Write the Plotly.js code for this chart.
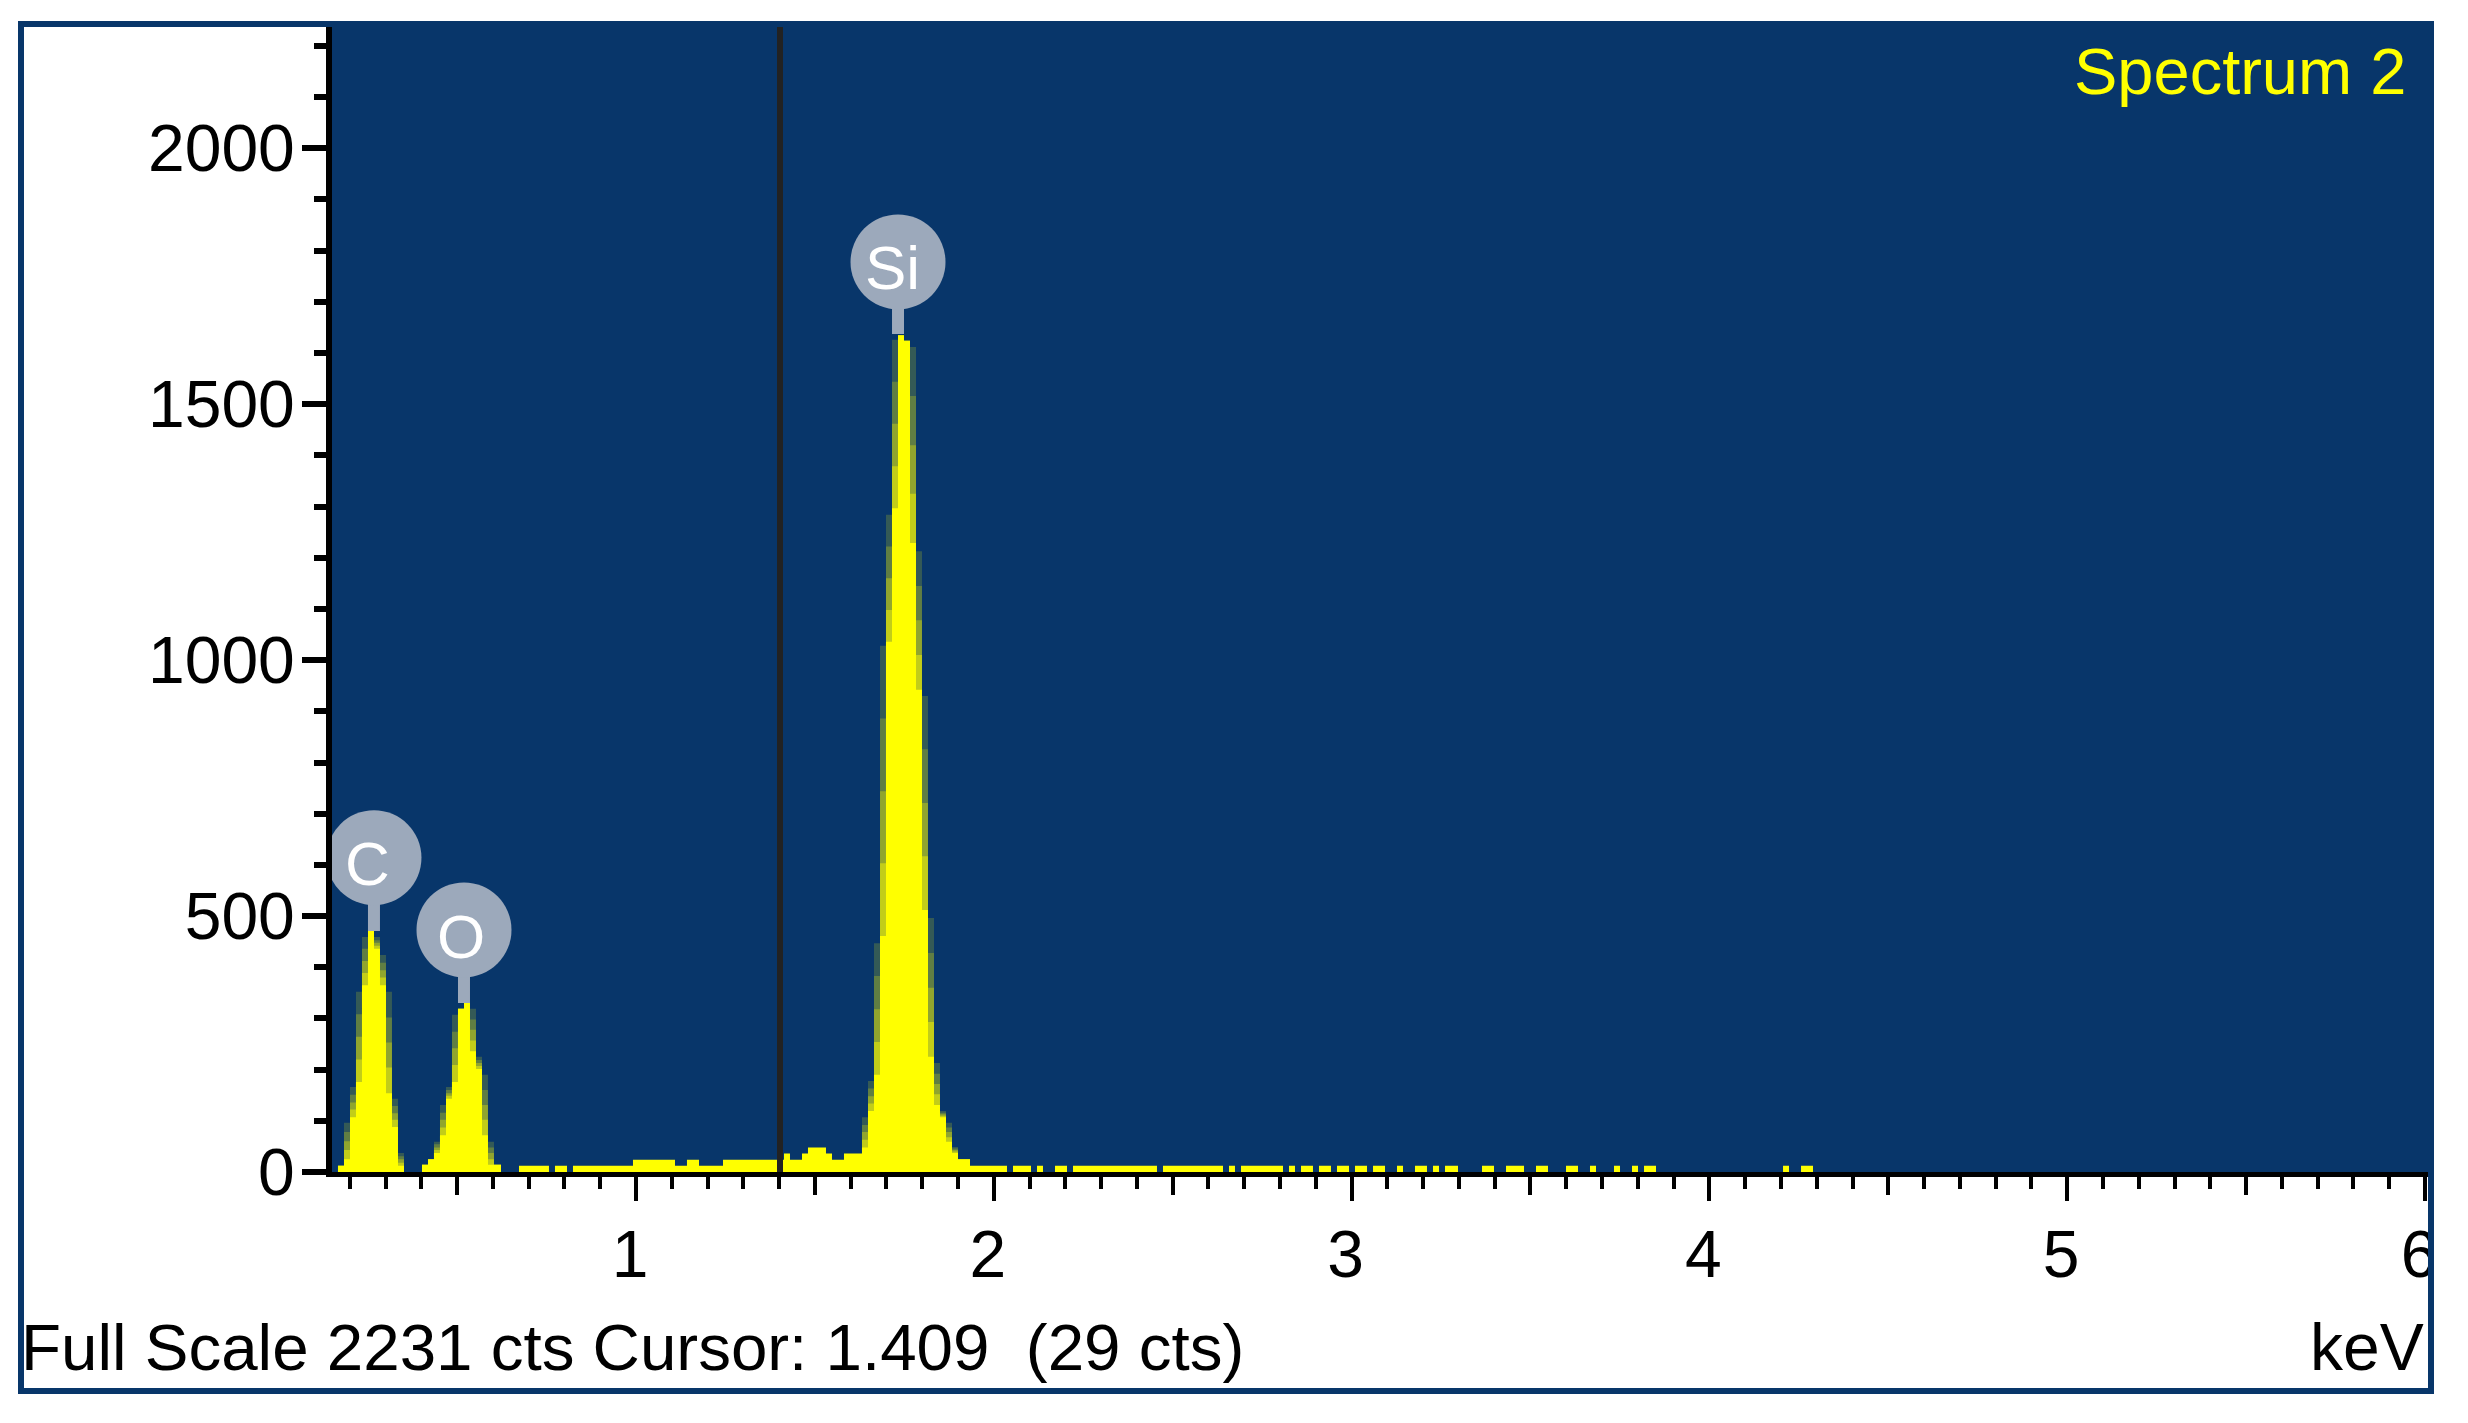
<!DOCTYPE html>
<html>
<head>
<meta charset="utf-8">
<script src="https://cdn.plot.ly/plotly-3.0.1.min.js"></script>
<style>html,body{margin:0;padding:0;background:#fff;}</style>
</head>
<body>
<div id="chart"></div>
<script>
// Spectrum: start energy of each step (keV) and counts held until the next step
const stepKeV = [0.1671,0.1839,0.2007,0.2174,0.2342,0.2510,0.2677,0.2845,0.3013,0.3180,0.3348,0.3516,
  0.4019,0.4187,0.4354,0.4522,0.4690,0.4857,0.5025,0.5193,0.5360,0.5528,0.5696,0.5863,0.6227,
  0.6730,0.7568,0.7736,0.8072,0.8239,0.9916,1.1090,1.1425,1.1761,1.2432,1.4136,1.4304,1.4640,1.4807,1.5310,1.5478,1.5813,
  1.6316,1.6484,1.6652,1.6820,1.6987,1.7155,1.7323,1.7490,1.7658,1.7826,1.7993,1.8161,1.8329,1.8496,1.8664,1.8832,1.9000,1.9335,
  2.0369,2.0537,2.1040,2.1208,2.1375,2.1711,2.2046,2.2214,2.4561,2.4729,2.6406,2.6574,2.6741,2.6909,2.8083,2.8251,2.8418,2.8586,
  2.8921,2.9089,2.9424,2.9592,2.9928,3.0095,3.0431,3.0599,3.0934,3.1269,3.1437,3.1772,3.2107,3.2275,3.2443,3.2611,3.2974,3.3645,
  3.3980,3.4316,3.4819,3.5154,3.5489,3.5993,3.6328,3.6663,3.6831,3.7334,3.7502,3.7837,3.8005,3.8173,3.8508,4.2058,4.2225,4.2561,4.2896];
const stepCounts = [12,25,107,176,365,471,436,365,154,88,12,0,
  14,25,37,72,143,176,319,330,236,201,72,14,0,
  12,0,12,0,12,24,12,24,12,24,36,24,36,48,36,24,36,
  48,119,190,461,1036,1297,1635,1624,1229,942,512,225,131,107,59,37,25,12,
  0,12,0,12,0,12,0,12,0,12,0,12,0,12,0,12,0,12,
  0,12,0,12,0,12,0,12,0,12,0,12,0,12,0,12,0,12,
  0,12,0,12,0,12,0,12,0,12,0,12,0,12,0,12,0,12,0];

// Soft shoulders of the three peaks, from the faint outer edge inwards
const shoulderKeV = [0.1671,0.1839,0.2007,0.2174,0.2342,0.2510,0.2677,0.2845,0.3013,0.3180,0.3348,0.3516,
  0.4019,0.4187,0.4354,0.4522,0.4690,0.4857,0.5025,0.5193,0.5360,0.5528,0.5696,0.5863,0.6031,0.6227,
  1.6316,1.6484,1.6652,1.6820,1.6987,1.7155,1.7323,1.7490,1.7658,1.7826,1.7993,1.8161,1.8329,1.8496,1.8664,1.8832,1.9000,1.9335];
const shoulderTop = [12,96,166,352,459,471,459,424,352,143,37,0,
  14,25,59,131,166,307,319,330,319,225,190,59,14,0,
  107,178,447,1028,1284,1626,1635,1624,1612,1213,930,496,213,119,96,49,25,0];
const shoulderUpper = [12,78,151,308,436,471,453,409,302,129,31,0,
  14,25,54,116,160,274,319,330,298,219,160,48,14,0,
  92,163,383,886,1222,1544,1635,1624,1516,1145,826,428,192,116,87,46,25,0];
const shoulderMid = [12,60,136,264,412,471,448,394,253,115,25,0,
  14,25,48,102,154,242,319,330,278,213,131,37,14,0,
  78,148,318,744,1160,1462,1635,1624,1420,1078,721,360,172,113,78,43,25,0];
const shoulderLower = [12,43,122,220,389,471,442,380,204,102,18,0,
  14,25,43,87,149,209,319,330,257,207,102,25,14,0,
  63,134,254,603,1098,1379,1635,1624,1325,1010,617,293,152,110,68,40,25,0];

// Element labels
const elementNames = ['C','O','Si'];
const elementKeV = [0.2677,0.5193,1.7323];
const elementBadge = [614,473,1778];
const elementPeak = [471,330,1637];

const cursorKeV = 1.4025;
const xTicks = [1,2,3,4,5,6];
const yTicks = [0,500,1000,1500,2000];
const captionLeft = 'Full Scale 2231 cts Cursor: 1.409\u00a0\u00a0(29 cts)';
const captionRight = 'keV';
const spectrumName = 'Spectrum 2';

const W = 2468, H = 1423;
const L = 332, R = 2428, T = 27, B = 1172;
const px = v => (v - L) / (R - L);
const py = v => (B - v) / (B - T);
const NAVY = '#08366A', YELLOW = '#FFFF00', GREY = '#9CA9BB';
const FONT = 'Liberation Sans, Arial, sans-serif';
const xRange = [0.1504, 6.0084], yRange = [0, 2237];

const fillTrace = (x, y, color) => ({
  x, y, type: 'scatter', mode: 'lines', fill: 'tozeroy', fillcolor: color,
  line: {shape: 'hv', width: 0, color}, hoverinfo: 'skip', showlegend: false
});

const traces = [
  fillTrace(shoulderKeV, shoulderTop, 'rgba(255,255,0,0.18)'),
  fillTrace(shoulderKeV, shoulderUpper, 'rgba(255,255,0,0.22)'),
  fillTrace(shoulderKeV, shoulderMid, 'rgba(255,255,0,0.3)'),
  fillTrace(shoulderKeV, shoulderLower, 'rgba(255,255,0,0.45)'),
  fillTrace(stepKeV, stepCounts, YELLOW),
  {x: [cursorKeV, cursorKeV], y: yRange, xaxis: 'x2', yaxis: 'y', type: 'scatter', mode: 'lines',
   line: {color: '#222222', width: 6}, hoverinfo: 'skip', showlegend: false},
  {x: elementKeV, y: elementBadge, xaxis: 'x2', yaxis: 'y', type: 'scatter', mode: 'markers',
   marker: {size: 95, color: GREY, line: {width: 0}},
   error_y: {type: 'data', symmetric: false, array: [0,0,0],
             arrayminus: elementBadge.map((b, i) => b - elementPeak[i]),
             color: GREY, thickness: 12, width: 0},
   hoverinfo: 'skip', showlegend: false}
];

const badgeShift = [[-6,-6],[-3,-7],[-6,-6]];
const annotations = elementNames.map((n, i) => ({
  text: n, x: elementKeV[i], y: elementBadge[i], xref: 'x2', yref: 'y',
  xshift: badgeShift[i][0], yshift: badgeShift[i][1], showarrow: false,
  font: {family: FONT, size: 62, color: '#FFFFFF'}
})).concat([
  {text: spectrumName, x: px(2408), y: py(71), xref: 'paper', yref: 'paper', xanchor: 'right', yanchor: 'middle',
   showarrow: false, font: {family: FONT, size: 65, color: YELLOW}},
  {text: captionLeft, x: px(19), y: py(1347), xref: 'paper', yref: 'paper', xanchor: 'left', yanchor: 'middle',
   showarrow: false, font: {family: FONT, size: 65.5, color: '#000'}},
  {text: captionRight, x: px(2426), y: py(1347), xref: 'paper', yref: 'paper', xanchor: 'right', yanchor: 'middle',
   showarrow: false, font: {family: FONT, size: 66, color: '#000'}}
]);

const layout = {
  width: W, height: H, autosize: false,
  margin: {l: L, r: W - R, t: T, b: H - B, pad: 0},
  paper_bgcolor: '#FFFFFF', plot_bgcolor: NAVY, showlegend: false,
  xaxis: {
    range: xRange, tickmode: 'array', tickvals: xTicks, ticktext: xTicks.map(String),
    ticks: 'outside', ticklen: 24, tickwidth: 4, tickcolor: '#000',
    minor: {dtick: 0.1, tick0: 0, ticks: 'outside', ticklen: 12, tickwidth: 4, tickcolor: '#000', showgrid: false},
    showline: true, linecolor: '#000', linewidth: 5, showgrid: false, zeroline: false,
    tickfont: {family: FONT, size: 66, color: '#000'}, ticklabelshift: -6, ticklabelstandoff: -3
  },
  xaxis2: {
    range: xRange, overlaying: 'x', anchor: 'y', side: 'bottom', dtick: 0.5, tick0: 0,
    ticks: 'outside', ticklen: 18, tickwidth: 4, tickcolor: '#000',
    showline: true, linecolor: '#000', linewidth: 5, showgrid: false, zeroline: false, showticklabels: false
  },
  yaxis: {
    range: yRange, tickmode: 'array', tickvals: yTicks, ticktext: yTicks.map(String),
    ticks: 'outside', ticklen: 24, tickwidth: 6, tickcolor: '#000',
    minor: {dtick: 100, tick0: 0, ticks: 'outside', ticklen: 12, tickwidth: 6, tickcolor: '#000', showgrid: false},
    showline: true, linecolor: '#000', linewidth: 6, showgrid: false, zeroline: false,
    tickfont: {family: FONT, size: 66, color: '#000'}, ticklabelstandoff: -6
  },
  annotations,
  shapes: [
    {type: 'rect', layer: 'above', xref: 'paper', yref: 'paper', x0: px(2434), x1: px(W), y0: py(0), y1: py(H),
     fillcolor: '#FFFFFF', line: {width: 0}},
    {type: 'rect', layer: 'above', xref: 'paper', yref: 'paper', x0: px(21), x1: px(2431), y0: py(24), y1: py(1391),
     fillcolor: 'rgba(0,0,0,0)', line: {color: NAVY, width: 6}}
  ]
};

Plotly.newPlot('chart', traces, layout, {displayModeBar: false, staticPlot: true});
</script>
</body>
</html>
